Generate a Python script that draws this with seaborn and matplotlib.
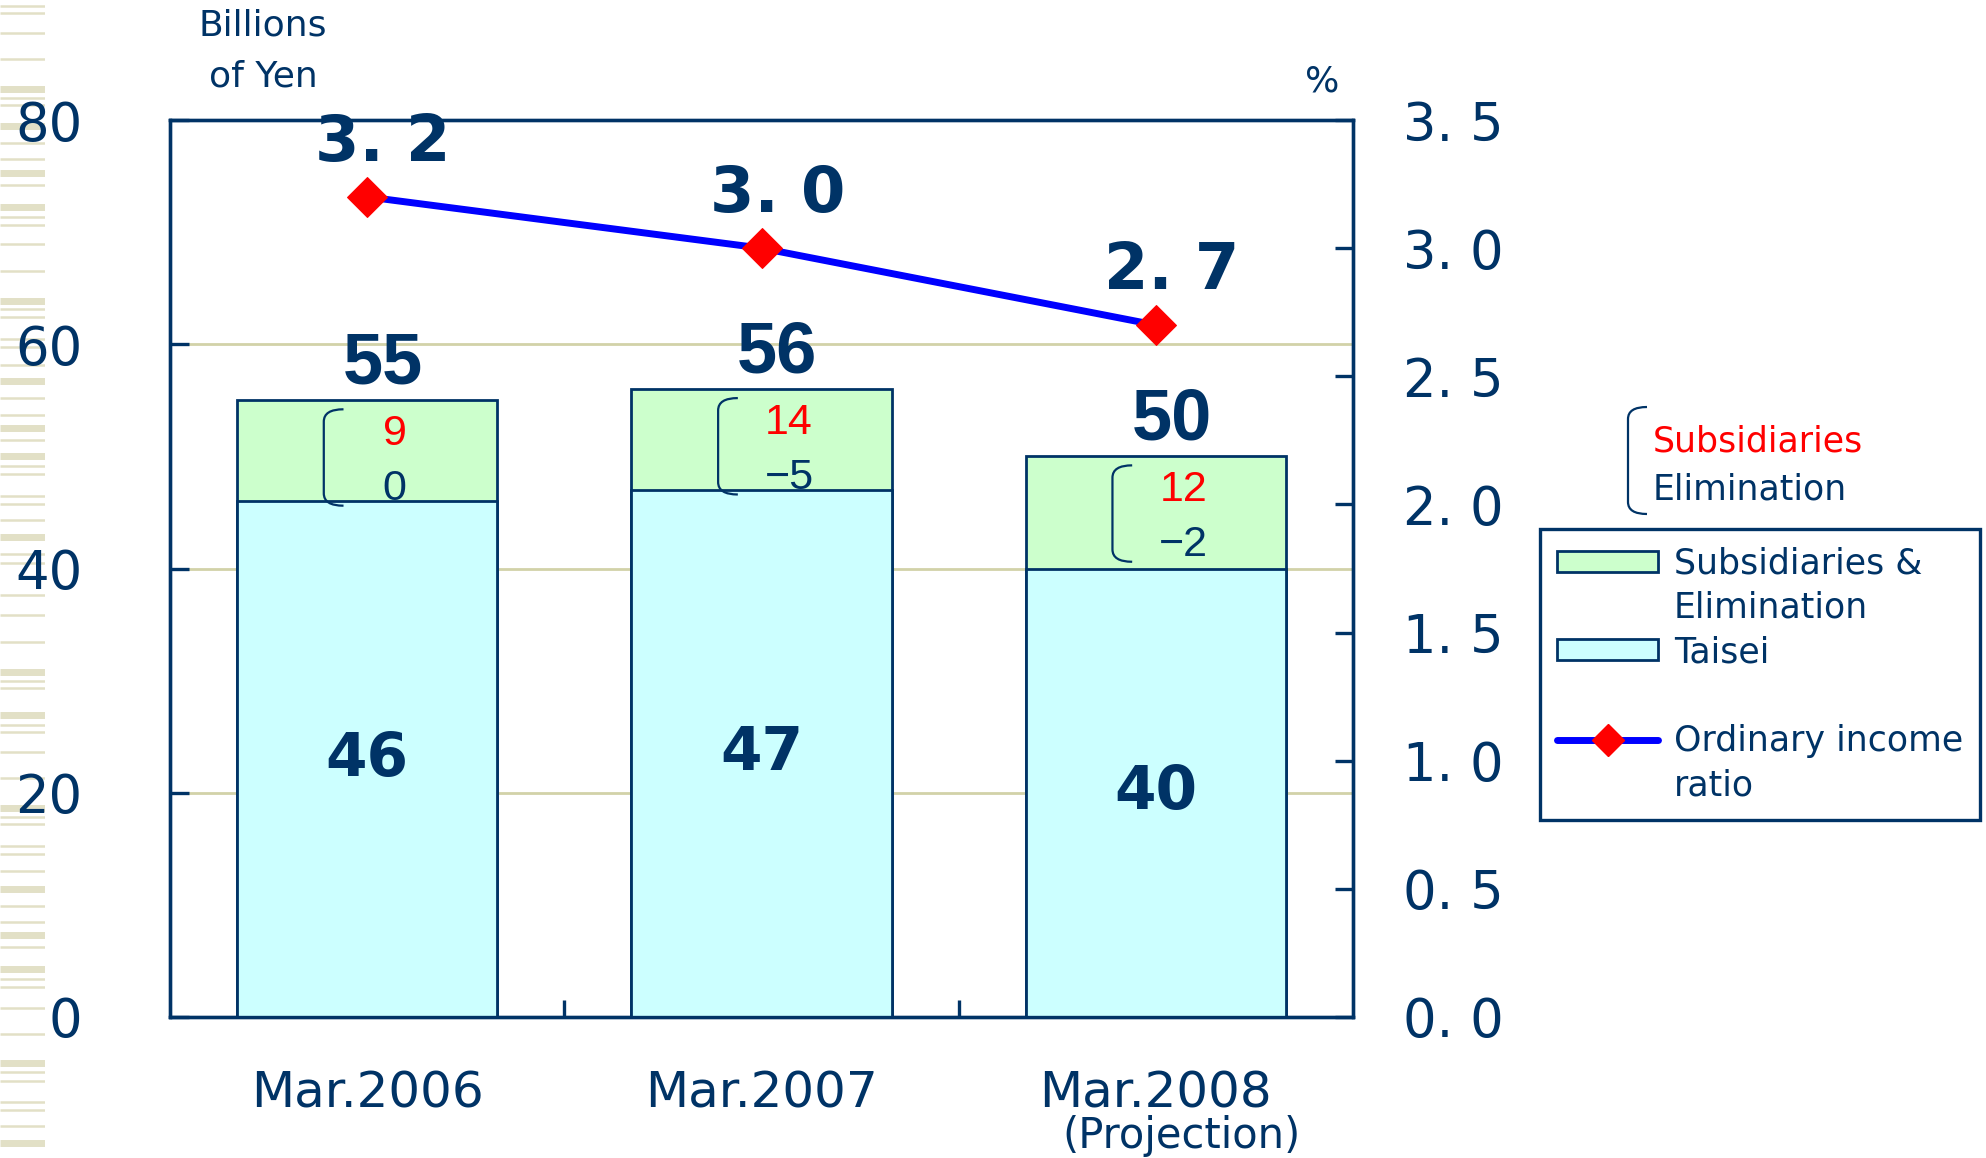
import numpy as np
import pandas as pd
import seaborn as sns
import matplotlib.pyplot as plt
from matplotlib.path import Path
from matplotlib.patches import PathPatch, Patch
from matplotlib.lines import Line2D

# data
periods = ["Mar.2006", "Mar.2007", "Mar.2008"]
taisei = [46, 47, 40]
subsidiaries = [9, 14, 12]
elimination = [0, -5, -2]
totals = [55, 56, 50]
ratio = [3.2, 3.0, 2.7]
left_ticks = [0, 20, 40, 60, 80]
right_ticks = [0.0, 0.5, 1.0, 1.5, 2.0, 2.5, 3.0, 3.5]
right_labels = ["0. 0", "0. 5", "1. 0", "1. 5", "2. 0", "2. 5", "3. 0", "3. 5"]

# decorative stripes on the left edge (pixel rows, thick or thin)
stripe_y = [6, 13, 33, 59, 89, 98, 105, 126, 143, 159, 173, 185, 207, 217, 225, 244,
            271, 301, 309, 317, 339, 347, 365, 381, 398, 415, 428, 440, 456, 466, 474,
            496, 504, 520, 537, 554, 563, 595, 615, 642, 672, 681, 688, 715, 725, 732,
            752, 778, 808, 817, 824, 846, 854, 871, 889, 906, 922, 935, 947, 969, 979,
            987, 1008, 1034, 1063, 1072, 1081, 1102, 1110, 1126, 1143]
stripe_thick = [89, 126, 173, 207, 301, 381, 428, 456, 537, 672, 715, 808, 889, 935,
                969, 1063, 1143]

NAVY = "#003366"
GREEN = "#CCFFCC"
CYAN = "#CCFFFF"
BLUE = "#0000FF"
RED = "#FF0000"
GRID = "#D2D2A8"
STRIPE = "#E2E0C6"
NARROW = ["Liberation Sans", "DejaVu Sans"]

sns.set_theme(style="white")
plt.rcParams["font.family"] = ["DejaVu Sans"]

W, H = 1986, 1158
fig = plt.figure(figsize=(W / 100, H / 100), dpi=100)

# left edge stripes
sax = fig.add_axes([0, 0, 45 / W, 1])
sax.set_xlim(0, 1)
sax.set_ylim(H, 0)
lws = [5.0 if y in stripe_thick else 1.8 for y in stripe_y]
sax.hlines(stripe_y, 0, 1, colors=STRIPE, linewidth=lws)
sax.axis("off")

ax = fig.add_axes([170 / W, 1 - 1017 / H, 1183 / W, 897 / H])
df = pd.DataFrame({"period": periods, "taisei": taisei, "total": totals})
sns.barplot(data=df, x="period", y="total", color=GREEN, saturation=1, width=0.66,
            edgecolor=NAVY, linewidth=2, ax=ax, zorder=2)
sns.barplot(data=df, x="period", y="taisei", color=CYAN, saturation=1, width=0.66,
            edgecolor=NAVY, linewidth=2, ax=ax, zorder=3)
ax.set_xlim(-0.5, 2.5)
ax.set_ylim(0, 80)
ax.set_yticks(left_ticks)
ax.yaxis.grid(True, color=GRID, lw=2)
ax.set_axisbelow(True)
ax.set_xlabel("")
ax.set_ylabel("")
ax.tick_params(axis="y", direction="in", length=14, width=2.4, color=NAVY,
               labelcolor=NAVY, labelsize=38, pad=63, left=True)
ax.tick_params(axis="x", which="major", length=0, labelsize=36, labelcolor=NAVY, pad=38)
ax.set_xticks([0.5, 1.5], minor=True)
ax.tick_params(axis="x", which="minor", direction="in", length=12, width=2.4,
               color=NAVY, bottom=True)

ax2 = ax.twinx()
sns.lineplot(x=np.arange(len(ratio)), y=ratio, ax=ax2, color=BLUE, lw=5, marker="D",
             markersize=20, markerfacecolor=RED, markeredgecolor=RED, zorder=5)
ax2.set_ylim(0, 3.5)
ax2.set_yticks(right_ticks, right_labels)
ax2.set_ylabel("")
ax2.tick_params(axis="y", direction="in", length=13, width=2.4, color=NAVY,
                labelcolor=NAVY, labelsize=38, pad=36, right=True)
for a in (ax, ax2):
    for s in a.spines.values():
        s.set_color(NAVY)
        s.set_linewidth(2.4)


def bracket(x0, top, bot, h, r, transform):
    verts = [(x0 + h, top), (x0, top), (x0, top - r), (x0, bot + r), (x0, bot), (x0 + h, bot)]
    codes = [Path.MOVETO, Path.CURVE3, Path.CURVE3, Path.LINETO, Path.CURVE3, Path.CURVE3]
    return PathPatch(Path(verts, codes), fill=False, edgecolor=NAVY, lw=1.6,
                     transform=transform, clip_on=False, zorder=6)


# value labels
for i in range(len(periods)):
    ax.text(i + 0.04, totals[i] + 3.2, str(totals[i]), ha="center", va="center",
            fontsize=52, fontweight="bold", color=NAVY, family=NARROW, zorder=6)
    ax.text(i, taisei[i] / 2, str(taisei[i]), ha="center", va="center",
            fontsize=43, fontweight="bold", color=NAVY, zorder=6)
    ax.text(i + 0.07, totals[i] - 3, str(subsidiaries[i]), ha="center", va="center",
            fontsize=31, color=RED, family=NARROW, zorder=6)
    ax.text(i + 0.07, totals[i] - 7.9, str(elimination[i]).replace("-", "\u2212"),
            ha="center", va="center", fontsize=31, color=NAVY, family=NARROW, zorder=6)
    ax.add_patch(bracket(i - 0.11, totals[i] - 0.8, totals[i] - 9.4, 0.05, 1.1,
                         ax.transData))
    ax2.text(i + 0.04, ratio[i] + 0.21, f"{ratio[i]:.1f}".replace(".", ". "),
             ha="center", va="center", fontsize=46, fontweight="bold", color=NAVY)

ax.text(2.066, -0.133, "(Projection)", transform=ax.get_xaxis_transform(),
        ha="center", va="center", fontsize=30, color=NAVY)

fig.text(263 / W, 1 - 51 / H, "Billions\nof Yen", ha="center", va="center",
         fontsize=26, color=NAVY, linespacing=1.65)
fig.text(1322 / W, 1 - 82 / H, "%", ha="center", va="center", fontsize=26, color=NAVY)

# bracket note above the legend
fig.add_artist(bracket(1628 / W, 1 - 407 / H, 1 - 514 / H, 19 / W, 12 / H,
                       fig.transFigure))
fig.text(1653 / W, 1 - 441 / H, "Subsidiaries", ha="left", va="center",
         fontsize=25, color=RED)
fig.text(1653 / W, 1 - 490 / H, "Elimination", ha="left", va="center",
         fontsize=25, color=NAVY)

blank = Line2D([], [], linestyle="none")
handles = [Patch(facecolor=GREEN, edgecolor=NAVY, lw=2), blank,
           Patch(facecolor=CYAN, edgecolor=NAVY, lw=2), blank,
           Line2D([], [], color=BLUE, lw=5, marker="D", ms=16, mfc=RED, mec=RED), blank]
labels = ["Subsidiaries &", "Elimination", "Taisei", "", "Ordinary income", "ratio"]
leg = fig.legend(handles, labels, loc="upper left", bbox_to_anchor=(1540 / W, 1 - 529 / H),
                 frameon=True, fancybox=False, edgecolor=NAVY, fontsize=25,
                 handlelength=2.9, handleheight=0.55, handletextpad=0.45,
                 labelspacing=0.3, borderpad=0.5, borderaxespad=0, labelcolor=NAVY,
                 numpoints=1, framealpha=1)
leg.get_frame().set_linewidth(2.4)

fig.savefig("out.png", dpi=100)
